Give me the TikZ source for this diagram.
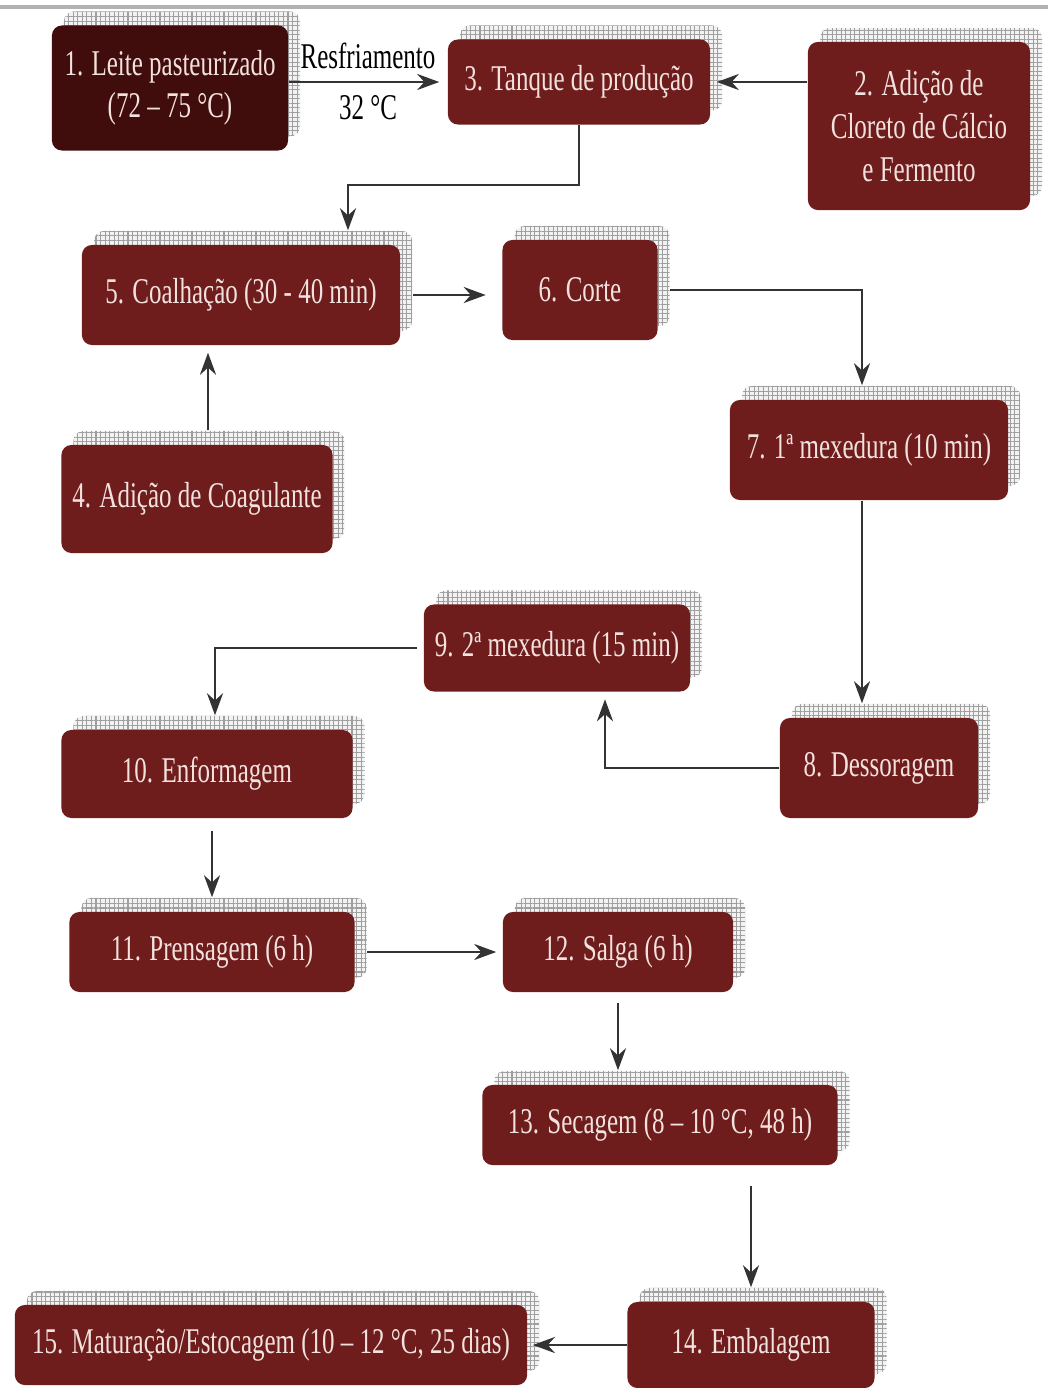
\documentclass[tikz,border=0pt]{standalone}
\usepackage{fontspec}
\setmainfont[FakeStretch=0.69]{Liberation Serif}
\usepackage{xcolor}
\usetikzlibrary{shadows,patterns.meta,arrows.meta}
\definecolor{vinho}{RGB}{110,28,28}
\definecolor{vinhoesc}{RGB}{64,12,12}
\definecolor{textocx}{RGB}{242,226,222}
\tikzset{caixa/.style={rectangle,rounded corners=0.1cm,fill=vinho,text=textocx,align=center,inner sep=0pt,
    font=\fontsize{10.3}{11.8}\selectfont,
    copy shadow={shadow xshift=0.12cm,shadow yshift=0.14cm,fill=gray!10,draw=none,
      postaction={pattern={Hatch[distance=1.3pt,line width=0.3pt]},pattern color=gray!75}}},
  seta/.style={draw=black!80,line width=0.8pt,-{Stealth[length=2.2mm,width=1.6mm]}}}

\begin{document}
\begin{tikzpicture}[x=0.01cm,y=-0.01cm]
    \useasboundingbox (0,0) rectangle (1048,1388);
    \draw [gray!60,line width=1pt] (0,7) -- (1048,7);

    \node[caixa,fill=vinhoesc,minimum width=2.36cm,minimum height=1.25cm] (leite) at (170,88) {1. Leite pasteurizado\\(72 – 75 °C)};
    \node[caixa,minimum width=2.62cm,minimum height=0.85cm] (tanque) at (579,82) {3. Tanque de produção};
    \node[caixa,minimum width=2.22cm,minimum height=1.68cm,font=\fontsize{10.3}{12.3}\selectfont] (calcio) at (919,126) {2. Adição de\\Cloreto de Cálcio\\e Fermento};
    \node[caixa,minimum width=3.18cm,minimum height=1.0cm] (coalho) at (241,295) {5. Coalhação (30 - 40 min)};
    \node[caixa,minimum width=1.55cm,minimum height=1.0cm] (corte) at (580,290) {6. Corte};
    \node[caixa,minimum width=2.71cm,minimum height=1.08cm] (coag) at (197,499) {4. Adição de Coagulante};
    \node[caixa,minimum width=2.78cm,minimum height=1.0cm] (mex1) at (869,450) {7. 1ª mexedura (10 min)};
    \node[caixa,minimum width=2.66cm,minimum height=0.87cm] (mex2) at (557,648) {9. 2ª mexedura (15 min)};
    \node[caixa,minimum width=1.98cm,minimum height=1.0cm] (dess) at (879,768) {8. Dessoragem};
    \node[caixa,minimum width=2.91cm,minimum height=0.88cm] (enform) at (207,774) {10. Enformagem};
    \node[caixa,minimum width=2.85cm,minimum height=0.8cm] (prens) at (212,952) {11. Prensagem (6 h)};
    \node[caixa,minimum width=2.30cm,minimum height=0.8cm] (salga) at (618,952) {12. Salga (6 h)};
    \node[caixa,minimum width=3.55cm,minimum height=0.8cm] (sec) at (660,1125) {13. Secagem (8 – 10 °C, 48 h)};
    \node[caixa,minimum width=2.47cm,minimum height=0.86cm] (emb) at (751,1345) {14. Embalagem};
    \node[caixa,minimum width=5.12cm,minimum height=0.8cm] (mat) at (271,1345) {15. Maturação/Estocagem (10 – 12 °C, 25 dias)};

    \coordinate (d1) at (348,185);
    \coordinate (d2) at (605,768);

    \draw [seta,shorten >=0.08cm] (leite.east |- tanque.west) to node[above,font=\fontsize{10.3}{11.8}\selectfont]{Resfriamento}
        node[below,font=\fontsize{10.3}{11.8}\selectfont]{32 °C} (tanque.west);
    \draw [seta] (calcio.west |- tanque.east) -- ([xshift=0.06cm]tanque.east);
    \draw [seta,shorten >=0.14cm] (tanque.south) |- (d1) -- (d1 |- coalho.north);
    \draw [seta,shorten <=0.12cm,shorten >=0.16cm] (coalho.east) -- (coalho.east -| corte.west);
    \draw [seta,shorten <=0.14cm,shorten >=0.07cm] ([xshift=0.11cm]coag.north) -- ([xshift=0.11cm]coag.north |- coalho.south);
    \draw [seta,shorten <=0.12cm,shorten >=0.14cm] (corte.east) -| ([xshift=-0.07cm]mex1.north);
    \draw [seta,shorten >=0.14cm] ([xshift=-0.07cm]mex1.south) -- ([xshift=-0.07cm]mex1.south |- dess.north);
    \draw [seta,shorten >=0.07cm] (dess.west) -- (d2) -- (d2 |- mex2.south);
    \draw [seta,shorten <=0.06cm,shorten >=0.14cm] (mex2.west) -| ([xshift=0.08cm]enform.north);
    \draw [seta,shorten <=0.12cm,shorten >=0.14cm] ([xshift=0.05cm]enform.south) -- ([xshift=0.05cm]enform.south |- prens.north);
    \draw [seta,shorten <=0.12cm,shorten >=0.06cm] (prens.east) -- (prens.east -| salga.west);
    \draw [seta,shorten <=0.1cm,shorten >=0.14cm] (salga.south) -- (salga.south |- sec.north);
    \draw [seta,shorten <=0.2cm,shorten >=0.14cm] (sec.south -| emb.north) -- (emb.north);
    \draw [seta] (emb.west) -- ([xshift=0.05cm]emb.west -| mat.east);
\end{tikzpicture}
\end{document}
